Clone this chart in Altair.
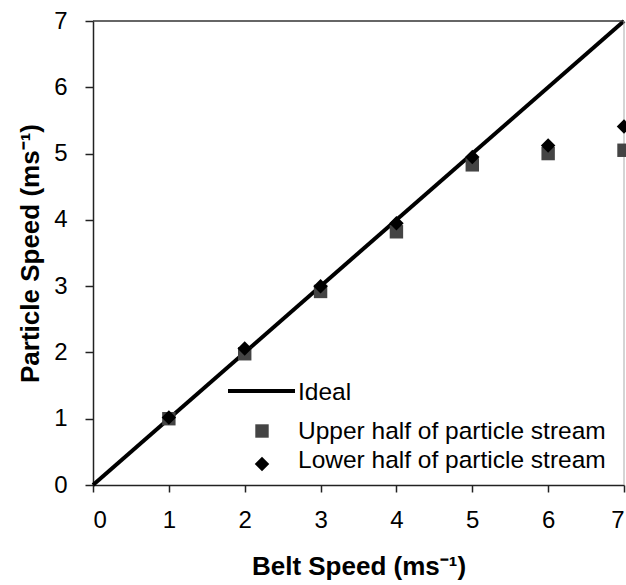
import altair as alt
import pandas as pd

# Data
belt_speed = [1, 2, 3, 4, 5, 6, 7]
upper_half = [1.0, 1.98, 2.92, 3.82, 4.83, 5.0, 5.05]
lower_half = [1.02, 2.06, 3.0, 3.95, 4.95, 5.12, 5.41]
ideal_x = [0, 7]
ideal_y = [0, 7]
legend_labels = ["Ideal", "Upper half of particle stream", "Lower half of particle stream"]
axis_ticks = [0, 1, 2, 3, 4, 5, 6, 7]

FONT = "Liberation Sans"

pts = pd.DataFrame({"belt": belt_speed, "upper": upper_half, "lower": lower_half})
ideal = pd.DataFrame({"x": ideal_x, "y": ideal_y})
dummy = pd.DataFrame({"d": [0]})

xscale = alt.Scale(domain=[0, 7], nice=False, zero=True)
yscale = alt.Scale(domain=[0, 7], nice=False, zero=True)

xaxis = alt.Axis(
    title="Belt Speed (ms⁻¹)", values=axis_ticks, grid=False, format="d",
    tickSize=7, labelPadding=16, titlePadding=21,
)
yaxis = alt.Axis(
    title="Particle Speed (ms⁻¹)", values=axis_ticks, grid=False, format="d",
    tickSize=8, labelPadding=18, titlePadding=10,
)

line = alt.Chart(ideal).mark_line(color="#000000", strokeWidth=4).encode(
    x=alt.X("x:Q", scale=xscale, axis=xaxis),
    y=alt.Y("y:Q", scale=yscale, axis=yaxis),
)

top_border = alt.Chart(dummy).mark_rule(color="#333333", strokeWidth=1.5).encode(
    x=alt.value(0), x2=alt.value(531), y=alt.value(0)
)
right_border = alt.Chart(dummy).mark_rule(color="#aaaaaa", strokeWidth=1).encode(
    x=alt.value(531), y=alt.value(0), y2=alt.value(464)
)

squares = alt.Chart(pts).mark_point(
    shape="square", filled=True, size=180, color="#444444", opacity=1
).encode(x=alt.X("belt:Q", scale=xscale), y=alt.Y("upper:Q", scale=yscale))

diamonds = alt.Chart(pts).mark_point(
    shape="diamond", filled=True, size=210, color="#000000", opacity=1
).encode(x=alt.X("belt:Q", scale=xscale), y=alt.Y("lower:Q", scale=yscale))

# Legend (drawn manually inside the plot area)
leg_line = alt.Chart(dummy).mark_rule(color="#000000", strokeWidth=4).encode(
    x=alt.value(135), x2=alt.value(202), y=alt.value(370)
)
leg_sq = alt.Chart(dummy).mark_point(
    shape="square", filled=True, size=180, color="#444444", opacity=1
).encode(x=alt.value(169), y=alt.value(410))
leg_di = alt.Chart(dummy).mark_point(
    shape="diamond", filled=True, size=210, color="#000000", opacity=1
).encode(x=alt.value(169), y=alt.value(443))

text_y = [372, 411, 440]
leg_texts = [
    alt.Chart(dummy).mark_text(
        align="left", baseline="middle", font=FONT, fontSize=24.5, color="#000000"
    ).encode(x=alt.value(205), y=alt.value(ty), text=alt.value(lbl))
    for lbl, ty in zip(legend_labels, text_y)
]

chart = alt.layer(
    line, top_border, right_border, squares, diamonds, leg_line, leg_sq, leg_di, *leg_texts
).properties(
    width=531, height=464,
    autosize=alt.AutoSizeParams(type="none"),
    padding={"left": 93, "top": 21, "right": 2, "bottom": 100},
    background="white",
).configure_view(stroke=None).configure_axis(
    labelFont=FONT, labelFontSize=24, labelColor="#000000",
    titleFont=FONT, titleFontSize=26, titleFontWeight="bold", titleColor="#000000",
    domainColor="#222222", domainWidth=1.5, tickColor="#222222", tickWidth=1.5,
)

chart.save("out.html", embed_options={"renderer": "svg", "actions": False})
